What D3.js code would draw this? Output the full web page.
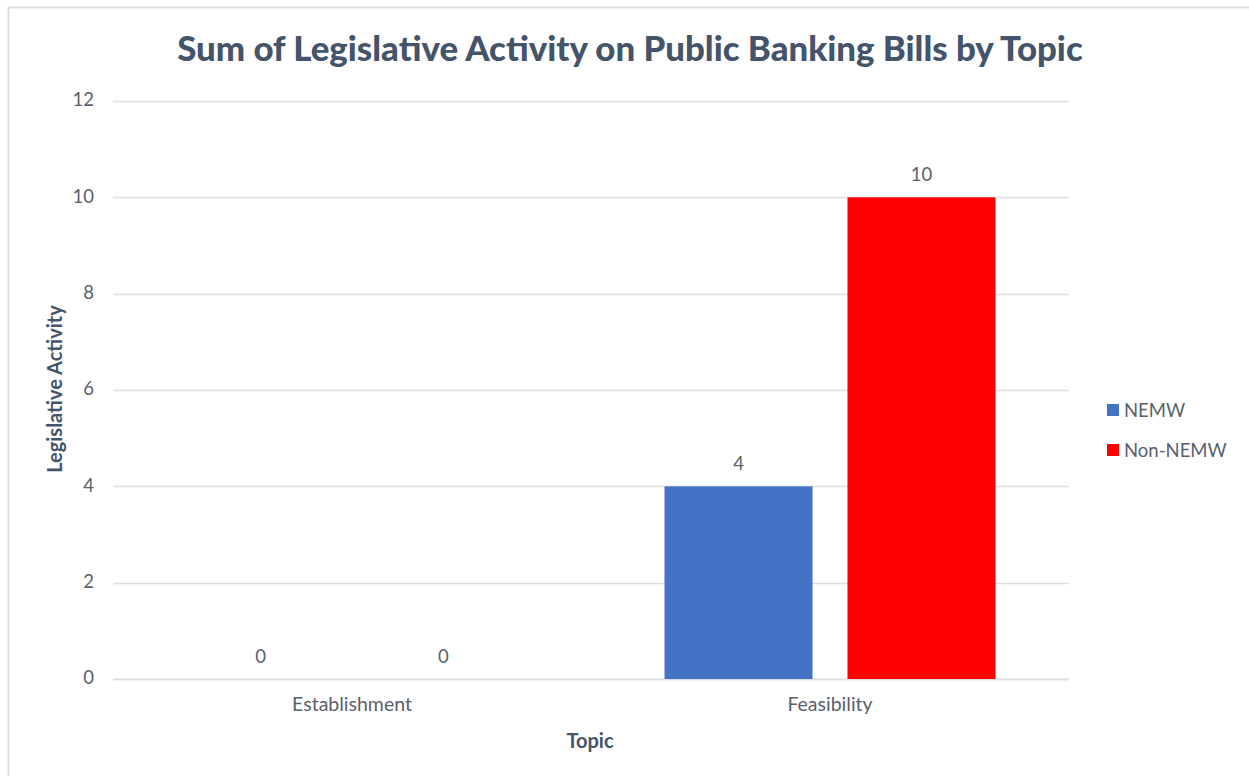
<!DOCTYPE html>
<html>
<head>
<meta charset="utf-8">
<script src="https://cdn.jsdelivr.net/npm/d3@7"></script>
<style>
  html, body { margin: 0; padding: 0; background: #fff; }
  svg { display: block; font-family: Lato, "Open Sans", sans-serif; }
</style>
</head>
<body>
<svg id="chart" width="1249" height="776"></svg>
<script>
// Chart data
const categories = ["Establishment", "Feasibility"];
const seriesNames = ["NEMW", "Non-NEMW"];
const nemwValues = [0, 4];
const nonNemwValues = [0, 10];
const yTicks = [0, 2, 4, 6, 8, 10, 12];
const seriesColors = ["#4472C4", "#FF0000"];

const titleText = "Sum of Legislative Activity on Public Banking Bills by Topic";
const yTitle = "Legislative Activity";
const xTitle = "Topic";

const rows = categories.map((c, i) => ({
  category: c,
  values: [
    { series: seriesNames[0], value: nemwValues[i] },
    { series: seriesNames[1], value: nonNemwValues[i] }
  ]
}));

const svg = d3.select("#chart");
const textColor = "#44546A";
const labelColor = "#595F6B";

// Outer chart frame
svg.append("rect")
  .attr("x", 8.5).attr("y", 7.5)
  .attr("width", 1300).attr("height", 800)
  .attr("fill", "#fff")
  .attr("stroke", "#DCDDE3").attr("stroke-width", 2);

const plot = { left: 113, right: 1069, top: 101, bottom: 679 };

const x0 = d3.scaleBand()
  .domain(categories)
  .range([plot.left, plot.right])
  .paddingInner(0.3075)
  .paddingOuter(0.15375);

const x1 = d3.scaleBand()
  .domain(seriesNames)
  .range([0, x0.bandwidth()])
  .paddingInner(0.191)
  .paddingOuter(0);

const y = d3.scaleLinear()
  .domain([0, 12])
  .range([plot.bottom, plot.top]);

const color = d3.scaleOrdinal().domain(seriesNames).range(seriesColors);

// Horizontal gridlines
svg.append("g")
  .selectAll("line")
  .data(yTicks)
  .join("line")
  .attr("x1", plot.left).attr("x2", plot.right)
  .attr("y1", d => Math.round(y(d)) + 0.5)
  .attr("y2", d => Math.round(y(d)) + 0.5)
  .attr("stroke", "#DDDFE5")
  .attr("stroke-width", d => d === 0 ? 2 : 1.5);

// Y axis tick labels
const yAxis = d3.axisLeft(y).tickValues(yTicks).tickSize(0).tickPadding(0);
const yAxisG = svg.append("g")
  .attr("transform", `translate(${plot.left - 19},-1)`)
  .call(yAxis);
yAxisG.select(".domain").remove();
yAxisG.selectAll("text")
  .attr("fill", labelColor)
  .attr("font-size", 18.5)
  .attr("font-family", "Lato, sans-serif");

// X axis category labels
const xAxis = d3.axisBottom(x0).tickSize(0).tickPadding(0);
const xAxisG = svg.append("g")
  .attr("transform", `translate(0,${plot.bottom + 18})`)
  .call(xAxis);
xAxisG.select(".domain").remove();
xAxisG.selectAll("text")
  .attr("fill", labelColor)
  .attr("font-size", 19.5)
  .attr("font-family", "Lato, sans-serif");

// Bars
const groups = svg.append("g")
  .selectAll("g")
  .data(rows)
  .join("g")
  .attr("transform", d => `translate(${x0(d.category)},0)`);

groups.selectAll("rect")
  .data(d => d.values)
  .join("rect")
  .attr("x", d => x1(d.series))
  .attr("width", x1.bandwidth())
  .attr("y", d => y(d.value))
  .attr("height", d => y(0) - y(d.value))
  .attr("fill", d => color(d.series));

// Value labels
groups.selectAll("text")
  .data(d => d.values)
  .join("text")
  .attr("x", d => x1(d.series) + x1.bandwidth() / 2)
  .attr("y", d => y(d.value) - 16)
  .attr("text-anchor", "middle")
  .attr("fill", labelColor)
  .attr("font-size", 18.5)
  .text(d => d.value);

// Title
const title = svg.append("text")
  .attr("x", 630)
  .attr("y", 61)
  .attr("text-anchor", "middle")
  .attr("fill", textColor)
  .attr("font-weight", 900)
  .attr("font-size", 32)
  .text(titleText);
const tw = title.node().getComputedTextLength();
title.attr("font-size", 32 * 906 / tw);

// Axis titles
svg.append("text")
  .attr("transform", `translate(62,389) rotate(-90)`)
  .attr("text-anchor", "middle")
  .attr("fill", textColor)
  .attr("font-weight", "bold")
  .attr("font-size", 20)
  .text(yTitle);

svg.append("text")
  .attr("x", 590)
  .attr("y", 748)
  .attr("text-anchor", "middle")
  .attr("fill", textColor)
  .attr("font-weight", "bold")
  .attr("font-size", 20)
  .text(xTitle);

// Legend
const legend = svg.append("g")
  .selectAll("g")
  .data(seriesNames)
  .join("g")
  .attr("transform", (d, i) => `translate(1107,${404 + i * 40})`);

legend.append("rect")
  .attr("width", 12).attr("height", 12)
  .attr("fill", d => color(d));

legend.append("text")
  .attr("x", 17)
  .attr("y", 12.5)
  .attr("fill", labelColor)
  .attr("font-size", 18.5)
  .text(d => d);
</script>
</body>
</html>
